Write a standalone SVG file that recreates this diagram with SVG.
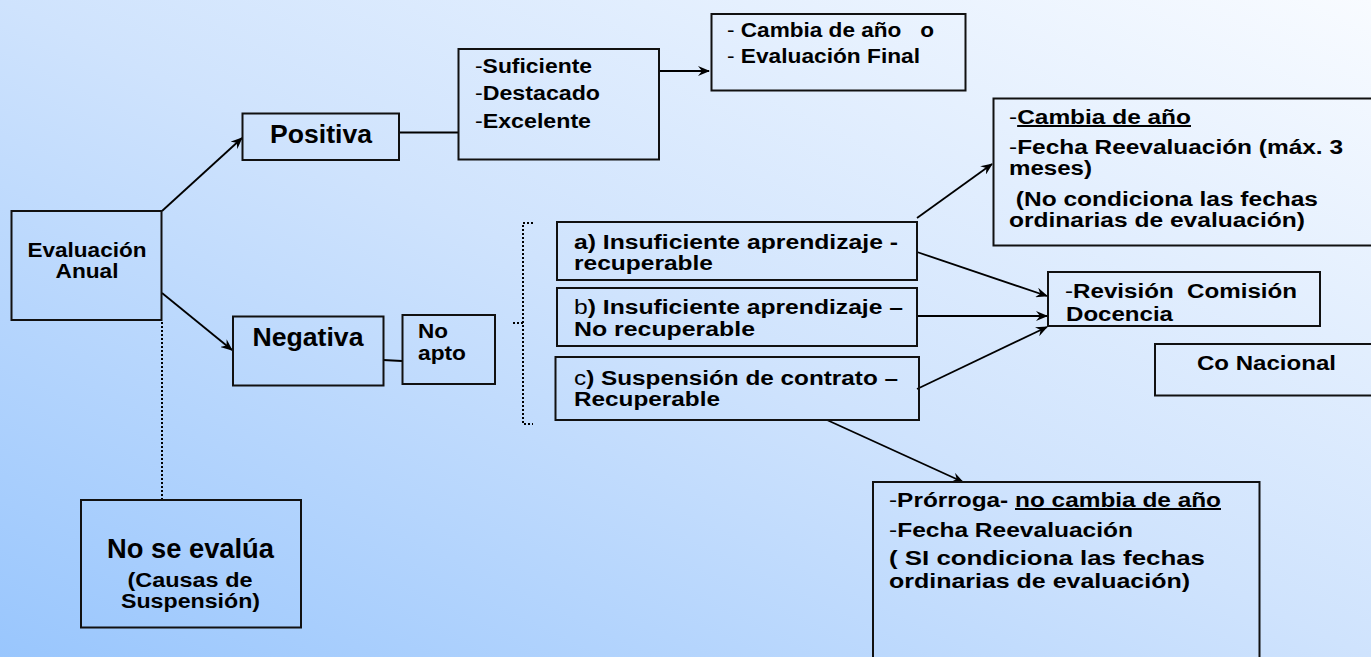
<svg xmlns="http://www.w3.org/2000/svg" width="1371" height="657" viewBox="0 0 1371 657">
<defs>
<linearGradient id="bg" x1="0" y1="1" x2="1" y2="0">
<stop offset="0" stop-color="#99c6fd"/>
<stop offset="0.5" stop-color="#cfe3fd"/>
<stop offset="1" stop-color="#f8fbff"/>
</linearGradient>
<marker id="arr" viewBox="0 0 12 10" refX="11" refY="5" markerWidth="12" markerHeight="10" markerUnits="userSpaceOnUse" orient="auto">
<path d="M0,0 L12,5 L0,10 L4,5 z" fill="#000"/>
</marker>
<style>
.box{fill:none;stroke:#111;stroke-width:2}
.t{font-family:"Liberation Sans",Arial,sans-serif;font-weight:bold;font-size:20px;fill:#000}
.n{font-weight:normal}
.c{text-anchor:middle}
.ln{stroke:#000;stroke-width:1.8;fill:none}
.dot{stroke:#000;stroke-width:2;fill:none;stroke-dasharray:2 2}
</style>
</defs>
<rect width="1371" height="657" fill="url(#bg)"/>

<g id="connectors">
<line class="ln" x1="162" y1="211" x2="242" y2="138" marker-end="url(#arr)"/>
<line class="ln" x1="162" y1="293" x2="232" y2="350" marker-end="url(#arr)"/>
<line class="ln" x1="400" y1="132.5" x2="458" y2="132.5"/>
<line class="ln" x1="659" y1="71" x2="709" y2="71" marker-end="url(#arr)"/>
<line class="ln" x1="383" y1="360" x2="402" y2="361"/>
<line class="ln" x1="917" y1="218" x2="992" y2="164" marker-end="url(#arr)"/>
<line class="ln" x1="917" y1="252" x2="1047" y2="296" marker-end="url(#arr)"/>
<line class="ln" x1="917" y1="316" x2="1047" y2="316" marker-end="url(#arr)"/>
<line class="ln" x1="917" y1="389" x2="1047" y2="327" marker-end="url(#arr)"/>
<line class="ln" x1="827" y1="420" x2="963" y2="482" marker-end="url(#arr)"/>
<line class="dot" x1="162" y1="322" x2="162" y2="500"/>
<path class="dot" d="M533,223 H523 V424 H533 M523,323 H512"/>
</g>

<g id="evaluacion">
<rect class="box" x="11.5" y="211" width="150" height="109"/>
<text class="t c" x="87" y="257" style="font-size:21px" textLength="119" lengthAdjust="spacingAndGlyphs">Evaluación</text>
<text class="t c" x="87" y="278" style="font-size:21px" textLength="63" lengthAdjust="spacingAndGlyphs">Anual</text>
</g>

<g id="positiva">
<rect class="box" x="242.5" y="113.5" width="156.5" height="46.5"/>
<text class="t c" x="321" y="143" style="font-size:26px" textLength="102" lengthAdjust="spacingAndGlyphs">Positiva</text>
</g>

<g id="calificaciones">
<rect class="box" x="458.5" y="49" width="200.5" height="110.5"/>
<text class="t" x="475" y="73" textLength="117" lengthAdjust="spacingAndGlyphs"><tspan class="n">-</tspan>Suficiente</text>
<text class="t" x="475" y="100" textLength="125" lengthAdjust="spacingAndGlyphs"><tspan class="n">-</tspan>Destacado</text>
<text class="t" x="475" y="127.5" textLength="116" lengthAdjust="spacingAndGlyphs"><tspan class="n">-</tspan>Excelente</text>
</g>

<g id="cambia">
<rect class="box" x="711.5" y="14" width="254" height="76.5"/>
<text class="t" x="727" y="37" xml:space="preserve" textLength="207" lengthAdjust="spacingAndGlyphs"><tspan class="n">- </tspan>Cambia de año   o</text>
<text class="t" x="727" y="63" xml:space="preserve" textLength="193" lengthAdjust="spacingAndGlyphs"><tspan class="n">- </tspan>Evaluación Final</text>
</g>

<g id="reevaluacion">
<rect class="box" x="993.5" y="98.5" width="380" height="147"/>
<text class="t" x="1009" y="124" textLength="182" lengthAdjust="spacingAndGlyphs"><tspan class="n">-</tspan><tspan text-decoration="underline">Cambia de año</tspan></text>
<text class="t" x="1009" y="154" textLength="334" lengthAdjust="spacingAndGlyphs"><tspan class="n">-</tspan>Fecha Reevaluación (máx. 3</text>
<text class="t" x="1009" y="175" textLength="83" lengthAdjust="spacingAndGlyphs">meses)</text>
<text class="t" x="1009" y="206" xml:space="preserve" textLength="309" lengthAdjust="spacingAndGlyphs"> (No condiciona las fechas</text>
<text class="t" x="1009" y="227" textLength="296" lengthAdjust="spacingAndGlyphs">ordinarias de evaluación)</text>
</g>

<g id="revision">
<rect class="box" x="1048" y="272" width="272" height="54"/>
<text class="t" x="1065" y="298" xml:space="preserve" textLength="232" lengthAdjust="spacingAndGlyphs"><tspan class="n">-</tspan>Revisión  Comisión</text>
<text class="t" x="1066" y="321" textLength="107" lengthAdjust="spacingAndGlyphs">Docencia</text>
</g>

<g id="conacional">
<rect class="box" x="1155" y="344" width="220" height="51.5"/>
<text class="t c" x="1266.5" y="370" textLength="139" lengthAdjust="spacingAndGlyphs">Co Nacional</text>
</g>

<g id="negativa">
<rect class="box" x="233" y="316.5" width="150.5" height="69"/>
<text class="t c" x="308" y="346" style="font-size:26px" textLength="111" lengthAdjust="spacingAndGlyphs">Negativa</text>
</g>

<g id="noapto">
<rect class="box" x="402.5" y="315" width="92.5" height="69"/>
<text class="t" x="418" y="338" textLength="30" lengthAdjust="spacingAndGlyphs">No</text>
<text class="t" x="418" y="360" textLength="48" lengthAdjust="spacingAndGlyphs">apto</text>
</g>

<g id="opcion-a">
<rect class="box" x="557" y="222" width="360" height="58"/>
<text class="t" x="574" y="249" textLength="324" lengthAdjust="spacingAndGlyphs">a) Insuficiente aprendizaje -</text>
<text class="t" x="574" y="270" textLength="139" lengthAdjust="spacingAndGlyphs">recuperable</text>
</g>

<g id="opcion-b">
<rect class="box" x="557" y="288" width="360" height="58"/>
<text class="t" x="574" y="314" textLength="329" lengthAdjust="spacingAndGlyphs"><tspan class="n">b</tspan>) Insuficiente aprendizaje –</text>
<text class="t" x="574" y="336" textLength="181" lengthAdjust="spacingAndGlyphs">No recuperable</text>
</g>

<g id="opcion-c">
<rect class="box" x="555.5" y="357" width="363.5" height="63"/>
<text class="t" x="574" y="385" textLength="324" lengthAdjust="spacingAndGlyphs"><tspan class="n">c</tspan>) Suspensión de contrato –</text>
<text class="t" x="574" y="406" textLength="146" lengthAdjust="spacingAndGlyphs">Recuperable</text>
</g>

<g id="noseevalua">
<rect class="box" x="81" y="500" width="220" height="127.5"/>
<text class="t c" x="190.5" y="557.5" style="font-size:27px" textLength="167" lengthAdjust="spacingAndGlyphs">No se evalúa</text>
<text class="t c" x="190" y="586.5" textLength="125" lengthAdjust="spacingAndGlyphs">(Causas de</text>
<text class="t c" x="190.5" y="607.5" textLength="139" lengthAdjust="spacingAndGlyphs">Suspensión)</text>
</g>

<g id="prorroga">
<rect class="box" x="873" y="482" width="386.5" height="190"/>
<text class="t" x="889" y="507" textLength="332" lengthAdjust="spacingAndGlyphs"><tspan class="n">-</tspan>Prórroga- <tspan text-decoration="underline">no cambia de año</tspan></text>
<text class="t" x="889" y="537" textLength="244" lengthAdjust="spacingAndGlyphs"><tspan class="n">-</tspan>Fecha Reevaluación</text>
<text class="t" x="889" y="565" textLength="316" lengthAdjust="spacingAndGlyphs">( SI condiciona las fechas</text>
<text class="t" x="889" y="588" textLength="301" lengthAdjust="spacingAndGlyphs">ordinarias de evaluación)</text>
</g>
</svg>
